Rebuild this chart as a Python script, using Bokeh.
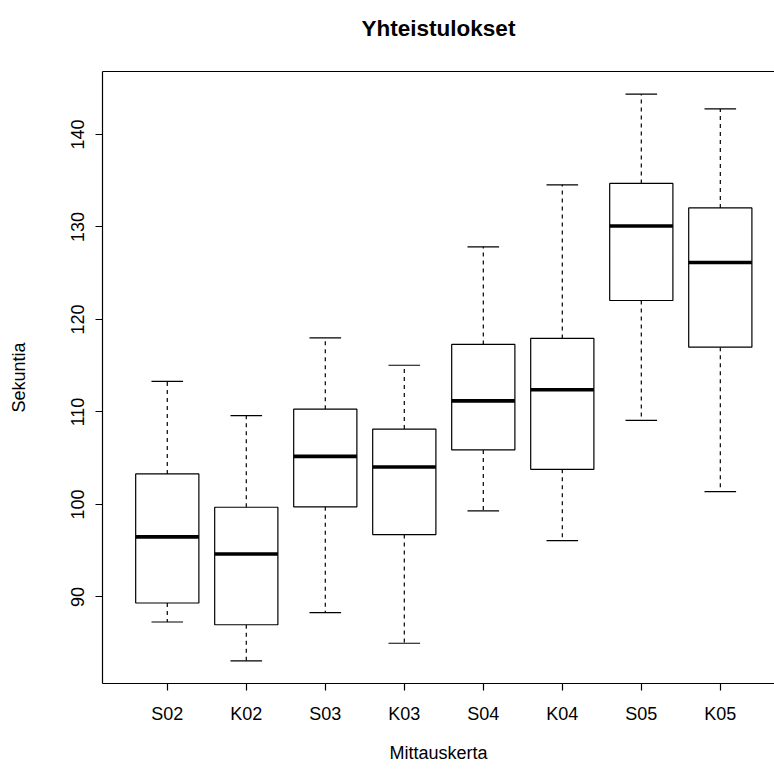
from bokeh.plotting import figure
from bokeh.models import Range1d, FixedTicker, LinearAxis
from bokeh.embed import file_html
from bokeh.resources import INLINE

# ---- data ----
categories = ["S02", "K02", "S03", "K03", "S04", "K04", "S05", "K05"]
whisker_low = [87.3, 83.1, 88.3, 85.0, 99.3, 96.1, 109.1, 101.4]
q1 = [89.35, 87.0, 99.75, 96.75, 105.9, 103.8, 122.05, 117.0]
median = [96.5, 94.65, 105.2, 104.05, 111.2, 112.4, 130.1, 126.15]
q3 = [103.3, 99.7, 110.3, 108.15, 117.3, 117.95, 134.7, 132.05]
whisker_high = [113.3, 109.6, 118.0, 115.05, 127.85, 134.55, 144.35, 142.75]
y_ticks = [90, 100, 110, 120, 130, 140]

title_text = "Yhteistulokset"
x_title = "Mittauskerta"
y_title = "Sekuntia"

# ---- derived positions ----
n = len(categories)
xs = [i + 1 for i in range(n)]
box_w = 0.8
staple_half = box_w / 4
x_left = [x - box_w / 2 for x in xs]
x_right = [x + box_w / 2 for x in xs]
st_left = [x - staple_half for x in xs]
st_right = [x + staple_half for x in xs]

lo = min(whisker_low)
hi = max(whisker_high)
pad = 0.04 * (hi - lo)

FONT = "Liberation Sans"
LW = 1.2

p = figure(width=774, height=777, output_backend="svg", toolbar_location=None,
           x_range=Range1d(0.5 - 0.04 * n, 8.686), y_range=Range1d(lo - pad, hi + pad),
           min_border_left=102, min_border_right=0, min_border_top=71, min_border_bottom=94)
p.grid.visible = False
p.outline_line_color = None
p.background_fill_color = "white"
p.border_fill_color = "white"

# whiskers
p.segment(x0=xs, y0=q3, x1=xs, y1=whisker_high, line_color="black",
          line_width=LW, line_dash="4 4")
p.segment(x0=xs, y0=q1, x1=xs, y1=whisker_low, line_color="black",
          line_width=LW, line_dash="4 4")
# boxes
p.vbar(x=xs, width=box_w, bottom=q1, top=q3, fill_color="white",
       line_color="black", line_width=LW)
# medians
p.segment(x0=x_left, y0=median, x1=x_right, y1=median, line_color="black",
          line_width=3.6, line_cap="butt")
# staples
p.segment(x0=st_left, y0=whisker_high, x1=st_right, y1=whisker_high,
          line_color="black", line_width=LW)
p.segment(x0=st_left, y0=whisker_low, x1=st_right, y1=whisker_low,
          line_color="black", line_width=LW)

# axes
xa = p.xaxis[0]
xa.ticker = FixedTicker(ticks=xs)
xa.major_label_overrides = {x: c for x, c in zip(xs, categories)}
xa.axis_label = x_title
ya = p.yaxis[0]
ya.ticker = FixedTicker(ticks=y_ticks)
ya.axis_label = y_title
ya.major_label_orientation = "vertical"
for ax in (xa, ya):
    ax.major_tick_out = 7
    ax.major_tick_in = 0
    ax.minor_tick_line_color = None
    ax.axis_line_width = LW
    ax.major_tick_line_width = LW
    ax.major_label_text_font = FONT
    ax.major_label_text_font_size = "18px"
    ax.major_label_text_color = "black"
    ax.axis_label_text_font = FONT
    ax.axis_label_text_font_size = "18px"
    ax.axis_label_text_font_style = "normal"
    ax.axis_label_text_color = "black"
xa.major_label_standoff = 13
xa.axis_label_standoff = 16
ya.major_label_standoff = 11
ya.axis_label_standoff = 40

# top frame line, carrying the chart title
top = LinearAxis(ticker=FixedTicker(ticks=[]), major_tick_out=0, major_tick_in=0,
                 minor_tick_out=0, minor_tick_in=0, major_label_text_font_size="0px",
                 axis_line_width=LW, axis_label=title_text,
                 axis_label_text_font=FONT, axis_label_text_font_style="bold",
                 axis_label_text_font_size="22.5px", axis_label_text_color="black",
                 axis_label_standoff=31)
p.add_layout(top, "above")

open("out.html", "w").write(file_html(p, INLINE))
